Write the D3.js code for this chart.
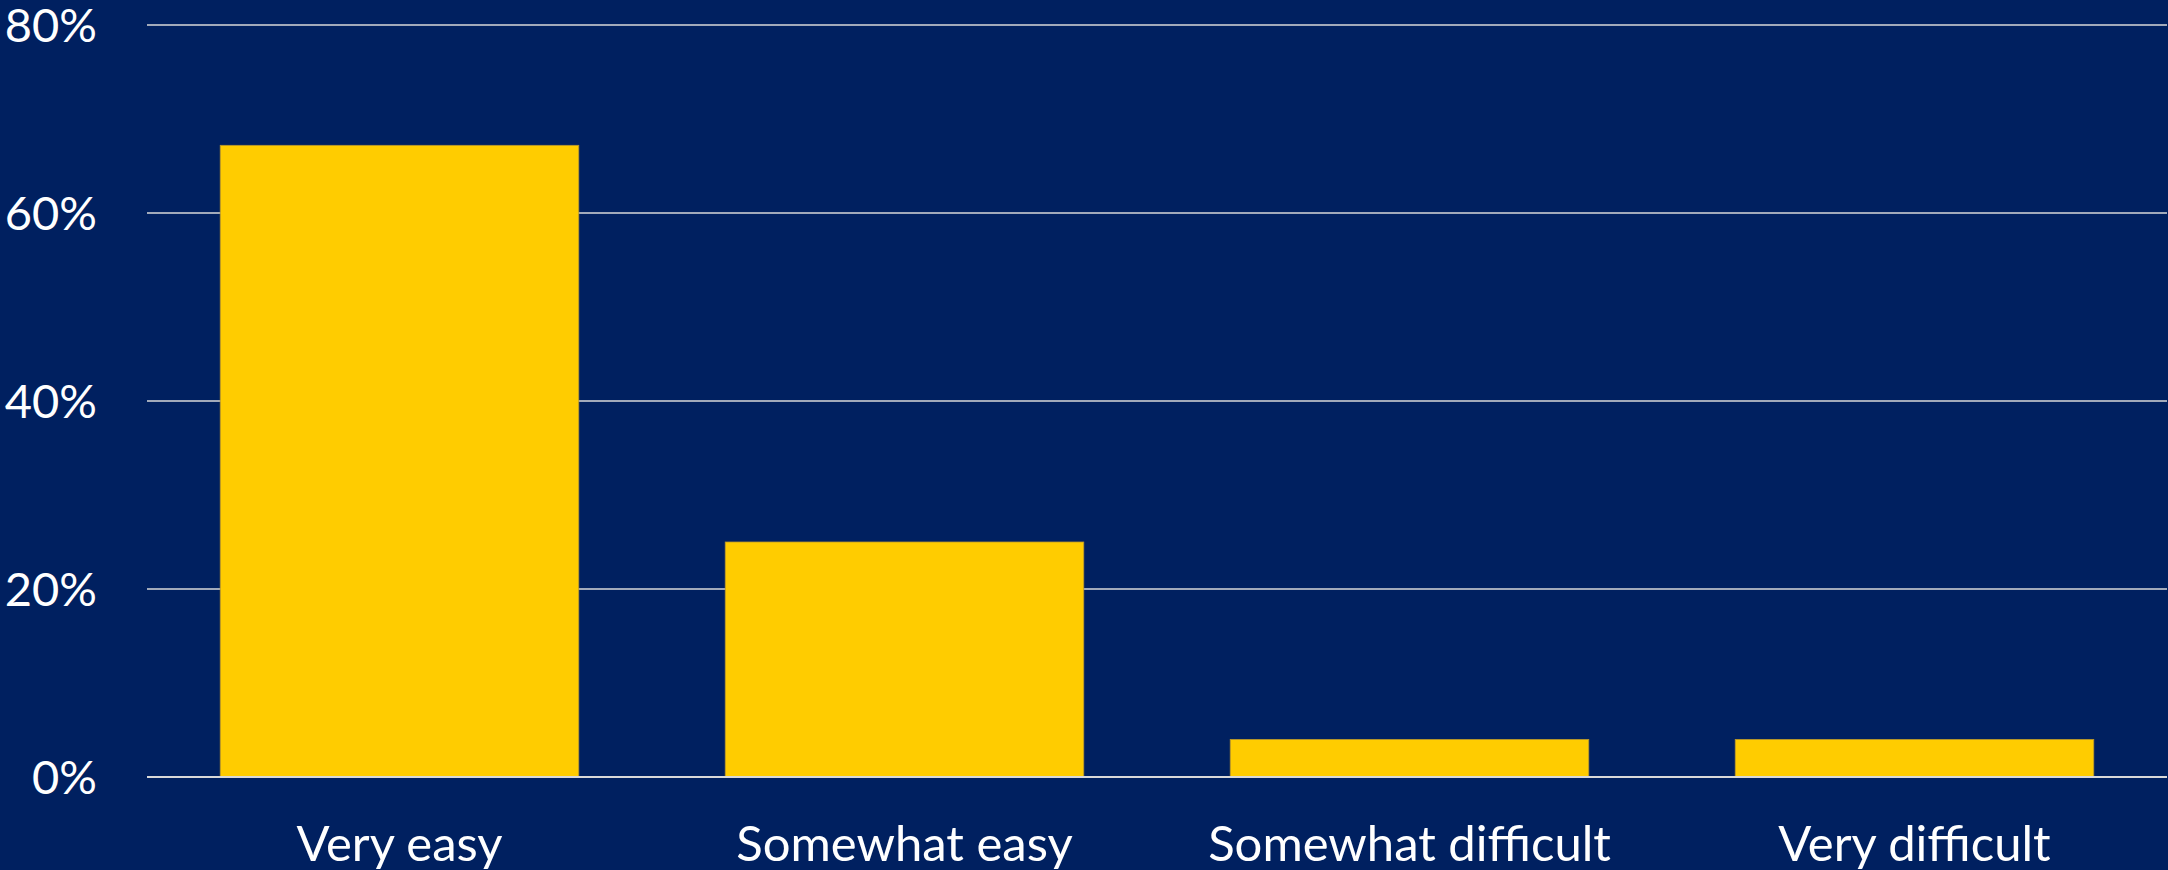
<!DOCTYPE html>
<html><head><meta charset="utf-8">
<script src="https://cdn.jsdelivr.net/npm/d3@7"></script>
<style>html,body{margin:0;padding:0;background:#002060;overflow:hidden}</style>
</head><body>
<svg id="c" width="2168" height="870"></svg>
<script>
const categories = ["Very easy", "Somewhat easy", "Somewhat difficult", "Very difficult"];
const values = [0.672, 0.25, 0.04, 0.04];
const yTicks = [0, 0.2, 0.4, 0.6, 0.8];

const W = 2168, H = 870;
const m = {left: 147, right: 1, top: 25, bottom: 93};
const svg = d3.select("#c");
svg.append("rect").attr("width", W).attr("height", H).attr("fill", "#002060");

const x = d3.scaleBand().domain(categories).range([m.left, W - m.right])
  .paddingInner(0.29).paddingOuter(0.145);
const y = d3.scaleLinear().domain([0, 0.8]).range([H - m.bottom, m.top]);

const font = "Lato, 'Open Sans', sans-serif";

// gridlines
svg.append("g").selectAll("line").data(yTicks.filter(d => d > 0)).join("line")
  .attr("x1", m.left).attr("x2", W - m.right)
  .attr("y1", d => y(d)).attr("y2", d => y(d))
  .attr("stroke", "#D9D9D9").attr("stroke-width", 1.5);

// bars
svg.append("g").selectAll("rect").data(values).join("rect")
  .attr("x", (d, i) => x(categories[i]))
  .attr("width", x.bandwidth())
  .attr("y", d => y(d))
  .attr("height", d => y(0) - y(d))
  .attr("fill", "#FFCC00")
  .attr("stroke", "#B8962E").attr("stroke-width", 0.8);

// baseline
svg.append("line").attr("x1", m.left).attr("x2", W - m.right)
  .attr("y1", y(0)).attr("y2", y(0))
  .attr("stroke", "#D9D9D9").attr("stroke-width", 2);

// y axis labels
const yAxis = d3.axisLeft(y).tickValues(yTicks).tickFormat(d3.format(".0%")).tickSize(0).tickPadding(50);
const ya = svg.append("g").attr("transform", `translate(${m.left},0)`).call(yAxis);
ya.select(".domain").remove();
ya.selectAll("text").attr("fill", "#FFFFFF").style("font-family", font).style("font-size", "47px")
  .attr("dy", "0.36em");

// x axis labels
const xAxis = d3.axisBottom(x).tickSize(0).tickPadding(0);
const xa = svg.append("g").attr("transform", `translate(0,${y(0)})`).call(xAxis);
xa.select(".domain").remove();
xa.selectAll("text").attr("fill", "#FFFFFF").style("font-family", font).style("font-size", "49px")
  .attr("y", 84).attr("dy", 0);
</script>
</body></html>
